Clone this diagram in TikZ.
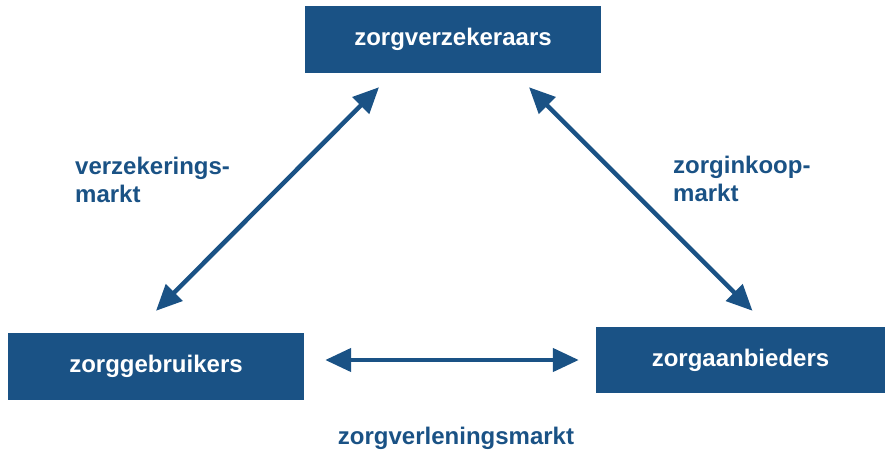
\documentclass[tikz,border=0pt]{standalone}
\usepackage{fontspec}
\setmainfont{Liberation Sans}
\usepackage{xcolor}
\usepackage{tikz}
\usetikzlibrary{arrows.meta, positioning}
\definecolor{zorgblauw}{HTML}{1A5285}

\begin{document}
\begin{tikzpicture}[x=1pt, y=-1pt,
        partij/.style={fill=zorgblauw, text=white, inner sep=0pt, font=\fontsize{24}{28}\selectfont\bfseries},
        markt/.style={text=zorgblauw, inner sep=0pt, align=left, font=\fontsize{24}{28}\selectfont\bfseries},
        pijl/.style={draw=zorgblauw, line width=4.5pt, {Triangle[length=26pt,width=23pt]}-{Triangle[length=26pt,width=23pt]}}]
    \useasboundingbox (0,0) rectangle (885,453);
    \node[partij, minimum width=296pt, minimum height=67pt] (verz) at (453,39.5) {zorgverzekeraars};
    \node[partij, minimum width=296pt, minimum height=67pt] (gebr) at (156,366.5) {zorggebruikers};
    \node[partij, minimum width=289pt, minimum height=66pt] (aanb) at (740.5,360) {zorgaanbieders};
    \node[markt, anchor=north west] (vmarkt) at (75,157) {verzekerings-\\markt};
    \node[markt, anchor=north west] (imarkt) at (673,156) {zorginkoop-\\markt};
    \node[markt, anchor=base] (lmarkt) at (456,444) {zorgverleningsmarkt};
    \draw[pijl] ([shift={(0,-22)}]gebr.north) -- ([shift={(-74,14)}]verz.south);
    \draw[pijl] ([shift={(76,14)}]verz.south) -- ([shift={(12,-16)}]aanb.north);
    \draw[pijl] ([shift={(21,-6.5)}]gebr.east) -- ([shift={(-17,0)}]aanb.west);
\end{tikzpicture}
\end{document}
